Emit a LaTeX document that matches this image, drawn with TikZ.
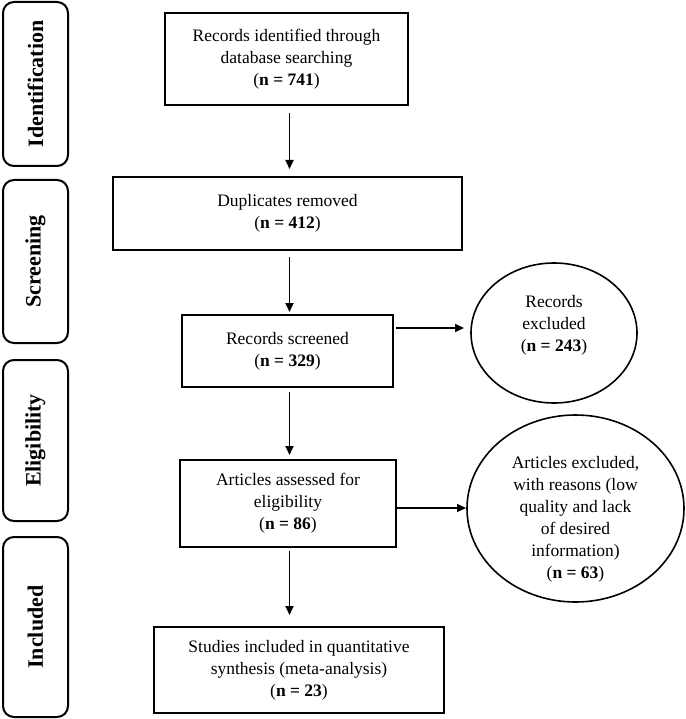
\documentclass[tikz,border=0pt]{standalone}
\usepackage{fontspec}
\setmainfont{Liberation Serif}
\usetikzlibrary{arrows.meta,shapes.geometric,calc}
\begin{document}
\begin{tikzpicture}[x=1pt,y=-1pt,
  every node/.style={inner sep=0pt,outer sep=0pt},
  mainbox/.style={draw,line width=2.1pt,align=center,font=\fontsize{17.5}{22}\selectfont},
  sidebox/.style={draw,line width=2pt,rounded corners=11pt,minimum width=65pt},
  sidetext/.style={rotate=90,font=\bfseries\fontsize{22}{26}\selectfont},
  excl/.style={draw,ellipse,line width=1.6pt},
  excltext/.style={align=center,font=\fontsize{17.5}{22}\selectfont},
  arr/.style={line width=1.9pt,-{Triangle[length=9pt,width=8pt]}}]
\useasboundingbox (0,0) rectangle (685,719);
% side phase boxes
\node[sidebox,minimum height=164pt] (sid) at (35.5,84) {};
\node[sidetext] (tid) at (sid.center) {Identification};
\node[sidebox,minimum height=163pt] (ssc) at (35.5,261.5) {};
\node[sidetext] (tsc) at (ssc.center) {Screening};
\node[sidebox,minimum height=161pt] (sel) at (35.5,440.5) {};
\node[sidetext] (tel) at (sel.center) {Eligibility};
\node[sidebox,minimum height=180pt] (sin) at (35.5,627) {};
\node[sidetext] (tin) at (sin.center) {Included};
% main boxes
\node[mainbox,minimum width=243pt,minimum height=92pt] (b1) at (286.5,59)
  {Records identified through\\database searching\\(\textbf{n = 741})};
\node[mainbox,minimum width=349pt,minimum height=73pt] (b2) at (287.5,213.5)
  {Duplicates removed\\(\textbf{n = 412})};
\node[mainbox,minimum width=211pt,minimum height=72pt] (b3) at (287.5,351)
  {Records screened\\(\textbf{n = 329})};
\node[mainbox,minimum width=216pt,minimum height=87pt] (b4) at (288,503.5)
  {Articles assessed for\\eligibility\\(\textbf{n = 86})};
\node[mainbox,minimum width=290pt,minimum height=86pt] (b5) at (299,670)
  {Studies included in quantitative\\synthesis (meta-analysis)\\(\textbf{n = 23})};
% exclusion ellipses
\node[excl,minimum width=166pt,minimum height=140pt] (e1) at (554,333) {};
\node[excltext] (t1) at (554,325) {Records\\excluded\\(\textbf{n = 243})};
\node[excl,minimum width=217pt,minimum height=187pt] (e2) at (575.5,508.5) {};
\node[excltext] (t2) at (575.5,519) {Articles excluded,\\with reasons (low\\quality and lack\\of desired\\information)\\(\textbf{n = 63})};
% connectors
\coordinate (ax) at (289.5,0);
\draw[arr,shorten <=8pt,shorten >=8pt] (b1.south -| ax) -- (b2.north -| ax);
\draw[arr,shorten <=7pt,shorten >=3pt] (b2.south -| ax) -- (b3.north -| ax);
\draw[arr,shorten <=5pt,shorten >=5pt] (b3.south -| ax) -- (b4.north -| ax);
\draw[arr,shorten <=4pt,shorten >=12pt] (b4.south -| ax) -- (b5.north -| ax);
\coordinate (h1) at (0,328);
\coordinate (h2) at (0,508);
\draw[arr,shorten <=3pt,shorten >=7pt] (b3.east |- h1) -- (e1.west |- h1);
\draw[arr,shorten <=1pt,shorten >=1pt] (b4.east |- h2) -- (e2.west |- h2);
\end{tikzpicture}
\end{document}
